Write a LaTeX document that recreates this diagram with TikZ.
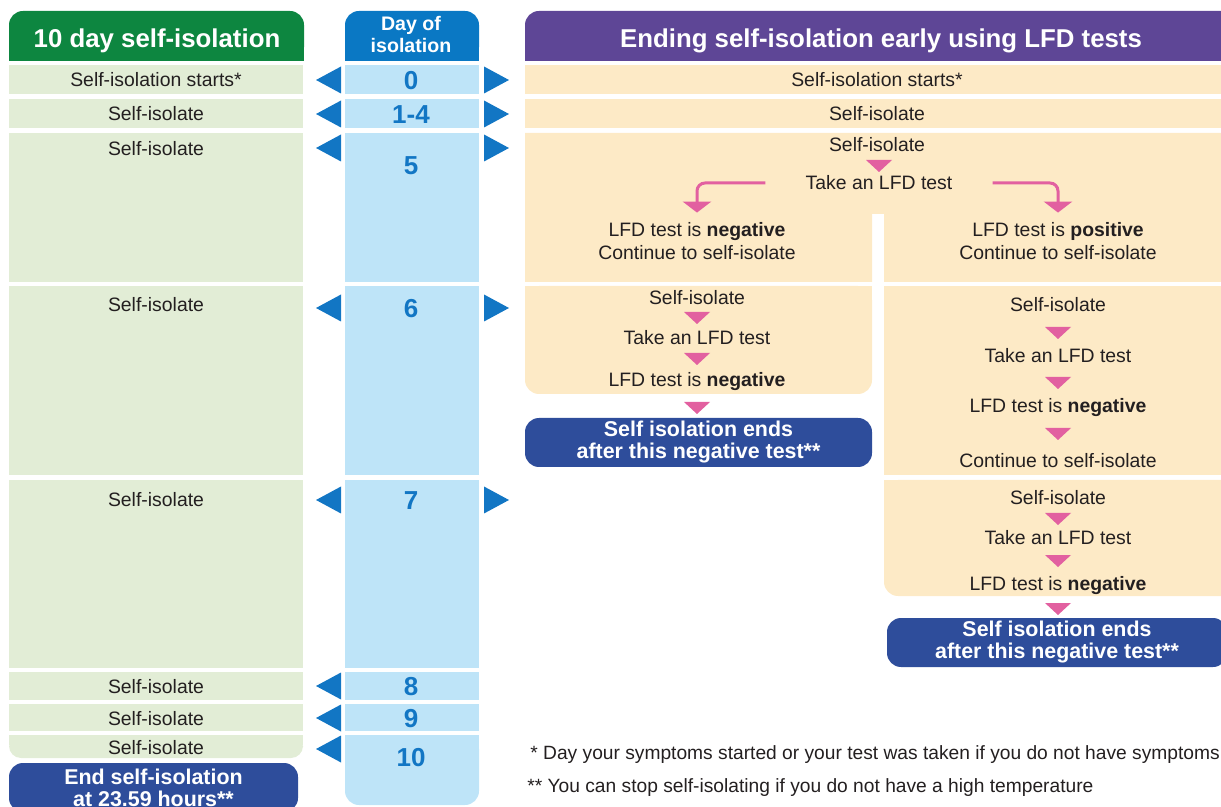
\documentclass[tikz,border=0pt]{standalone}
\usepackage{fontspec}
\setmainfont{Liberation Sans}
\usepackage{tikz}
\usetikzlibrary{shapes,arrows,positioning,arrows.meta}
\definecolor{hdgreen}{RGB}{13,134,64}
\definecolor{ltgreen}{RGB}{226,237,214}
\definecolor{hdblue}{RGB}{10,120,196}
\definecolor{ltblue}{RGB}{190,228,248}
\definecolor{triblue}{RGB}{18,118,196}
\definecolor{hdpurple}{RGB}{94,70,150}
\definecolor{beige}{RGB}{253,234,198}
\definecolor{endblue}{RGB}{46,77,155}
\definecolor{pinkc}{RGB}{226,96,160}
\definecolor{ink}{RGB}{35,31,32}
\tikzstyle{txt} = [inner sep=0pt, text=ink, font=\fontsize{9.7}{11}\selectfont, text height=7pt, text depth=0pt]
\tikzstyle{num} = [inner sep=0pt, text=triblue, font=\bfseries\fontsize{13}{14}\selectfont, text height=9.3pt, text depth=0pt]
\tikzstyle{head} = [inner sep=0pt, text=white, font=\bfseries\fontsize{12.9}{14}\selectfont, text height=9.3pt, text depth=0pt]
\tikzstyle{dayhead} = [inner sep=0pt, text=white, font=\bfseries\fontsize{9.8}{11}\selectfont, align=center]
\tikzstyle{endbox} = [fill=endblue, rounded corners=7pt, text=white, font=\bfseries\fontsize{10.7}{11}\selectfont, align=center, inner sep=0pt]
\tikzstyle{note} = [inner sep=0pt, anchor=west, text=ink, font=\fontsize{9.6}{11}\selectfont, text height=7pt, text depth=0pt]
\tikzstyle{arrow} = [line width=1.5pt, pinkc, rounded corners=4pt, -{Triangle[width=14pt,length=5.5pt]}, shorten >=5pt]
\newcommand{\ltri}[1]{\fill[triblue] (341,#1-13.5) -- (341,#1+13.5) -- (316,#1) -- cycle;}
\newcommand{\rtri}[1]{\fill[triblue] (484,#1-13.5) -- (484,#1+13.5) -- (509,#1) -- cycle;}
\newcommand{\dtri}[2]{\fill[pinkc] (#1-13,#2) -- (#1+13,#2) -- (#1,#2+12) -- cycle;}
\begin{document}
\begin{tikzpicture}[x=0.5pt,y=-0.5pt]
\useasboundingbox (0,0) rectangle (1221,807);
\clip (0,0) rectangle (1221,807);
% headers
\fill[hdgreen, rounded corners=7pt] (9,11) rectangle (304,61);
\fill[hdgreen] (9,36) rectangle (304,61);
\fill[hdblue, rounded corners=7pt] (345,11) rectangle (479,61);
\fill[hdblue] (345,36) rectangle (479,61);
\fill[hdpurple, rounded corners=7pt] (525,11) rectangle (1240,61);
\fill[hdpurple] (525,36) rectangle (1240,61);
\node[head] (h10) at (157,38) {10 day self-isolation};
\node[dayhead] (hday) at (411,35) {Day of\\isolation};
\node[head] (hlfd) at (881,38) {Ending self-isolation early using LFD tests};
% rows
\foreach \ya/\yb in {65/94,99/128,133/282,286/475,480/668,672/700,704/731}{
  \fill[ltgreen] (9,\ya) rectangle (303,\yb);
  \fill[ltblue] (345,\ya) rectangle (479,\yb);}
\fill[ltgreen, rounded corners=6pt] (9,735) rectangle (303,758);
\fill[ltgreen] (9,735) rectangle (303,745);
\fill[ltblue, rounded corners=7pt] (345,735) rectangle (479,805);
\fill[ltblue] (345,735) rectangle (479,770);
\fill[beige] (525,65) rectangle (1221,94);
\fill[beige] (525,99) rectangle (1221,128);
\fill[beige] (525,133) -- (1221,133) -- (1221,282) -- (884,282) -- (884,214) -- (872,214) -- (872,282) -- (525,282) -- cycle;
\fill[beige, rounded corners=7pt] (525,286) rectangle (872,394);
\fill[beige] (525,286) rectangle (872,340);
\fill[beige] (884,286) rectangle (1221,475);
\fill[beige, rounded corners=7pt] (884,480) rectangle (1240,596);
\fill[beige] (884,480) rectangle (1240,540);
% markers
\foreach \y in {80,114,148,308,500,686,718,749} \ltri{\y};
\foreach \y in {80,114,148,308,500} \rtri{\y};
\foreach \y/\t in {80/Self-isolation starts*,114/Self-isolate,149/Self-isolate,305/Self-isolate,500/Self-isolate,686/Self-isolate,718/Self-isolate,747/Self-isolate}
  \node[txt] (l\y) at (156,\y) {\t};
\foreach \y/\d in {80/0,114/1-4,165/5,308/6,500/7,686/8,718/9,757/10}
  \node[num] (d\d) at (411,\y) {\d};
\node[endbox, minimum width=144.5pt, minimum height=24.5pt] (end10) at (153.5,787.5) {End self-isolation\\at 23.59 hours**};
% early ending
\node[txt] (r0) at (877,80) {Self-isolation starts*};
\node[txt] (r1) at (877,114) {Self-isolate};
\node[txt] (s5) at (877,145) {Self-isolate};
\dtri{879}{160}
\node[txt] (t5) at (879,183) {Take an LFD test};
\node[txt] (neg5) at (697,230) {LFD test is \textbf{negative}};
\node[txt] (cneg5) at (697,253) {Continue to self-isolate};
\node[txt] (pos5) at (1058,230) {LFD test is \textbf{positive}};
\node[txt] (cpos5) at (1058,253) {Continue to self-isolate};
\draw[arrow] ([xshift=-20pt]t5.west) -| (neg5.north);
\draw[arrow] ([xshift=20pt]t5.east) -| (pos5.north);
\node[txt] (s6a) at (697,298) {Self-isolate};
\dtri{697}{312}
\node[txt] (t6a) at (697,338) {Take an LFD test};
\dtri{697}{353}
\node[txt] (n6a) at (697,380) {LFD test is \textbf{negative}};
\dtri{697}{402}
\node[endbox, minimum width=173.5pt, minimum height=24.5pt] (end6) at (698.5,442.5) {Self isolation ends\\after this negative test**};
\node[txt] (s6b) at (1058,305) {Self-isolate};
\dtri{1058}{327}
\node[txt] (t6b) at (1058,356) {Take an LFD test};
\dtri{1058}{377}
\node[txt] (n6b) at (1058,406) {LFD test is \textbf{negative}};
\dtri{1058}{428}
\node[txt] (c6b) at (1058,460) {Continue to self-isolate};
\node[txt] (s7) at (1058,498) {Self-isolate};
\dtri{1058}{513}
\node[txt] (t7) at (1058,538) {Take an LFD test};
\dtri{1058}{555}
\node[txt] (n7) at (1058,583) {LFD test is \textbf{negative}};
\dtri{1058}{603}
\node[endbox, minimum width=170pt, minimum height=24.5pt] (end7) at (1057,642.5) {Self isolation ends\\after this negative test**};
\node[note] (fn1) at (530,752) {* Day your symptoms started or your test was taken if you do not have symptoms};
\node[note] (fn2) at (527,785) {** You can stop self-isolating if you do not have a high temperature};
\end{tikzpicture}
\end{document}
